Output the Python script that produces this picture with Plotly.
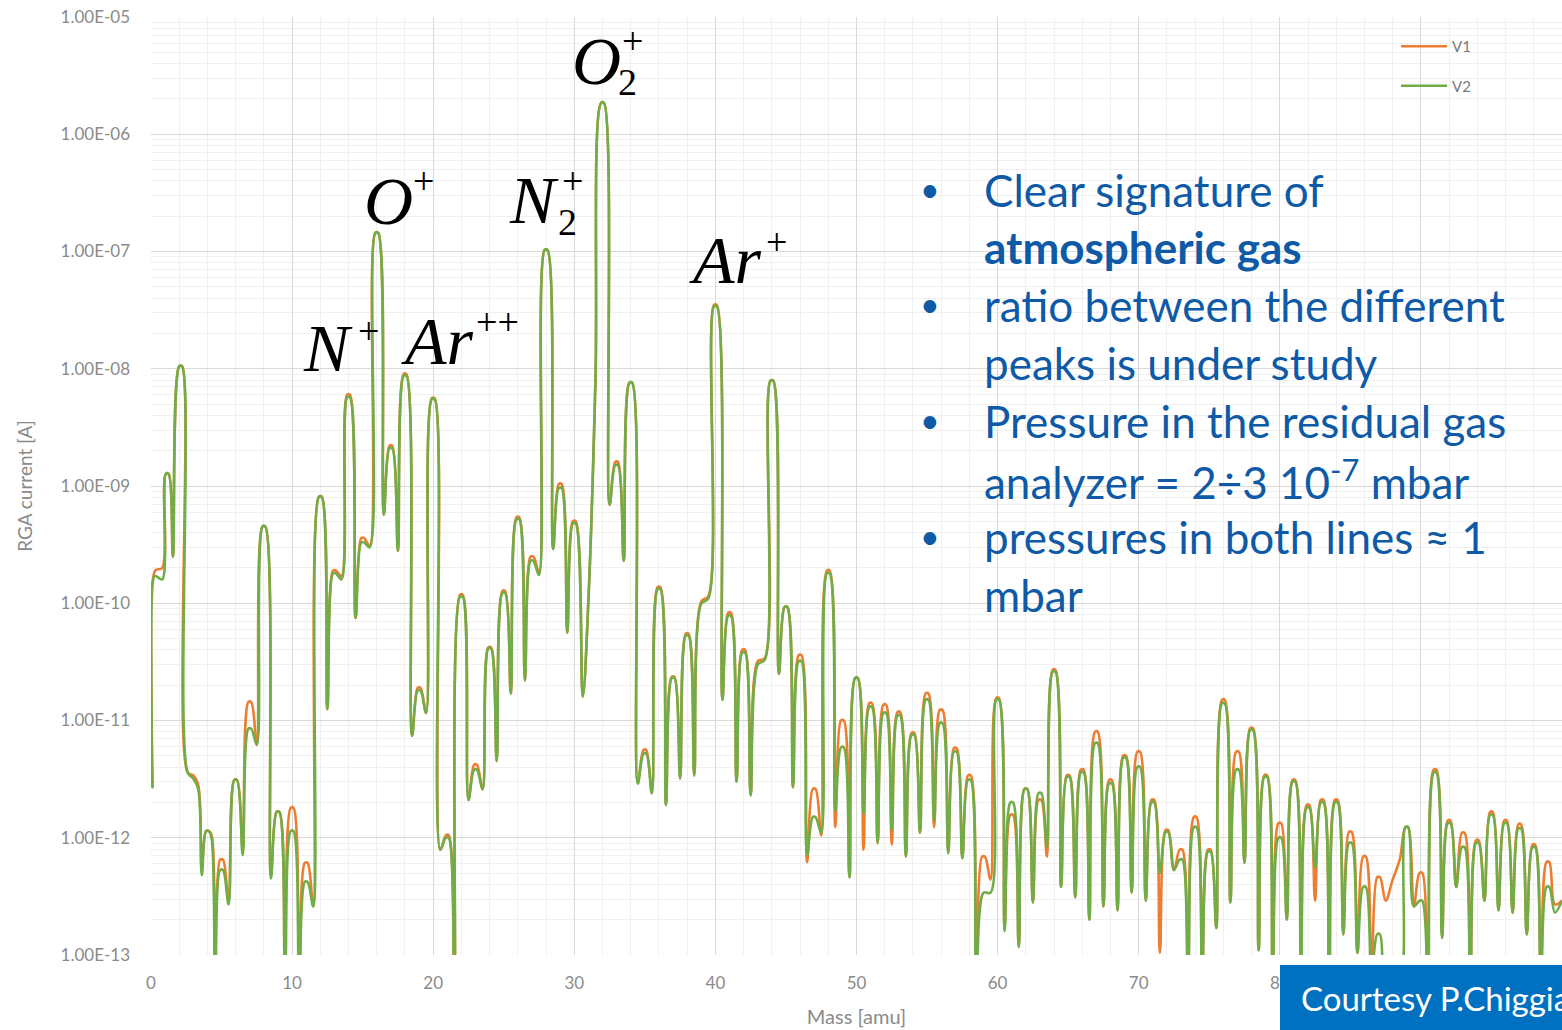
import plotly.graph_objects as go

# ---------------- data ----------------
mass = [0.0, 0.1, 0.3, 0.8, 1.15, 1.55, 2.1, 2.6, 3.0, 3.35, 3.6, 4.0, 4.3, 4.55, 5.0, 5.5,
        6.0, 6.5, 7.0, 7.5, 8.0, 8.5, 9.0, 9.5, 10.0, 10.5, 11.0, 11.5, 12.0, 12.5,
        13.0, 13.5, 14.0, 14.5, 15.0, 15.5, 16.0, 16.5, 17.0, 17.5, 18.0, 18.5, 19.0, 19.5,
        20.0, 20.5, 21.0, 21.5, 22.0, 22.5, 23.0, 23.5, 24.0, 24.5, 25.0, 25.5, 26.0, 26.5,
        27.0, 27.5, 28.0, 28.5, 29.0, 29.5, 30.0, 30.6, 31.0, 31.5, 32.0, 32.5, 33.0, 33.5,
        34.0, 34.5, 35.0, 35.5, 36.0, 36.5, 37.0, 37.5, 38.0, 38.5, 39.0, 39.5, 40.0, 40.5,
        41.0, 41.5, 42.0, 42.5, 43.0, 43.5, 44.0, 44.5, 45.0, 45.5, 46.0, 46.5, 47.0, 47.5,
        48.0, 48.5, 49.0, 49.5, 50.0, 50.5, 51.0, 51.5, 52.0, 52.5, 53.0, 53.5, 54.0, 54.5,
        55.0, 55.5, 56.0, 56.5, 57.0, 57.5, 58.0, 58.5, 59.0, 59.5, 60.0, 60.5, 61.0, 61.5,
        62.0, 62.5, 63.0, 63.5, 64.0, 64.5, 65.0, 65.5, 66.0, 66.5, 67.0, 67.5, 68.0, 68.5,
        69.0, 69.5, 70.0, 70.5, 71.0, 71.5, 72.0, 72.5, 73.0, 73.5, 74.0, 74.5, 75.0, 75.5,
        76.0, 76.5, 77.0, 77.5, 78.0, 78.5, 79.0, 79.5, 80.0, 80.5, 81.0, 81.5, 82.0, 82.5,
        83.0, 83.5, 84.0, 84.5, 85.0, 85.5, 86.0, 86.5, 87.0, 87.5, 88.0, 88.5, 89.0, 89.5,
        90.0, 90.5, 91.0, 91.5, 92.0, 92.5, 93.0, 93.5, 94.0, 94.5, 95.0, 95.5, 96.0, 96.5,
        97.0, 97.5, 98.0, 98.5, 99.0, 99.5, 100.0]

v1_current = [7.3e-11, 2.7e-12, 1.9e-10, 2.0e-10, 1.27e-9, 2.5e-10, 1.05e-8, 3.6e-12, 3.4e-12, 2.8e-12, 5.3e-13, 1.14e-12, 1.05e-12, 6e-14, 6.5e-13, 2.9e-13,
              3.1e-12, 7.9e-13, 1.44e-11, 6.2e-12, 4.5e-10, 4.8e-13, 1.66e-12, 6e-14, 1.8e-12, 6e-14, 6.1e-13, 2.6e-13, 8.1e-10, 1.25e-11,
              1.9e-10, 1.7e-10, 6.0e-9, 7.5e-11, 3.6e-10, 3.1e-10, 1.44e-7, 5.7e-10, 2.2e-9, 2.8e-10, 9.0e-9, 7.4e-12, 1.9e-11, 1.16e-11,
              5.6e-9, 7.9e-13, 1.05e-12, 6e-14, 1.18e-10, 2.1e-12, 4.2e-12, 2.6e-12, 4.2e-11, 4.5e-12, 1.27e-10, 1.7e-11, 5.4e-10, 2.2e-11,
              2.5e-10, 1.85e-10, 1.03e-7, 2.9e-10, 1.04e-9, 5.6e-11, 5.0e-10, 1.6e-11, 1.06e-10, 8.0e-9, 1.85e-6, 6.9e-10, 1.6e-9, 2.3e-10,
              7.6e-9, 2.9e-12, 5.6e-12, 2.4e-12, 1.37e-10, 1.9e-12, 2.35e-11, 3.2e-12, 5.5e-11, 3.4e-12, 1.04e-10, 1.15e-10, 3.5e-8, 1.5e-11,
              8.3e-11, 3.0e-12, 4.0e-11, 2.3e-12, 3.2e-11, 3.4e-11, 7.9e-9, 2.5e-11, 9.3e-11, 2.7e-12, 3.6e-11, 6.2e-13, 2.6e-12, 1.05e-12,
              1.9e-10, 1.23e-12, 1.0e-11, 4.6e-13, 2.3e-11, 7.9e-13, 1.4e-11, 9.0e-13, 1.36e-11, 8.7e-13, 1.18e-11, 6.9e-13, 7.8e-12, 1.1e-12,
              1.7e-11, 1.23e-12, 1.23e-11, 7.4e-13, 5.8e-12, 6.7e-13, 3.4e-12, 9e-14, 6.9e-13, 4.4e-13, 1.55e-11, 1.8e-13, 1.56e-12, 1.17e-13,
              2.6e-12, 2.8e-13, 2.1e-12, 6.9e-13, 2.7e-11, 3.8e-13, 3.4e-12, 3.1e-13, 3.8e-12, 2.0e-13, 8.0e-12, 2.6e-13, 3.1e-12, 2.4e-13,
              5.0e-12, 3.4e-13, 5.4e-12, 2.9e-13, 2.1e-12, 1.04e-13, 1.16e-12, 5.3e-13, 7.9e-13, 6e-14, 1.5e-12, 6e-14, 7.9e-13, 1.7e-13,
              1.5e-11, 2.8e-13, 5.4e-12, 6.1e-13, 8.6e-12, 1.1e-13, 3.4e-12, 6e-14, 1.33e-12, 2.0e-13, 3.1e-12, 6e-14, 1.9e-12, 2.9e-13,
              2.1e-12, 6e-14, 2.1e-12, 1.5e-13, 1.12e-12, 1.04e-13, 6.9e-13, 6e-14, 4.6e-13, 2.9e-13, 4.4e-13, 6.5e-13, 1.23e-12, 2.6e-13,
              5.0e-13, 6e-14, 3.8e-12, 1.4e-13, 1.4e-12, 3.8e-13, 1.1e-12, 6e-14, 9.5e-13, 2.9e-13, 1.66e-12, 2.4e-13, 1.4e-12, 2.3e-13,
              1.3e-12, 1.5e-13, 8.7e-13, 6e-14, 6.2e-13, 2.7e-13, 2.9e-13]

v2_current = [7.3e-11, 2.7e-12, 1.7e-10, 1.6e-10, 1.27e-9, 2.5e-10, 1.05e-8, 3.6e-12, 3.2e-12, 2.6e-12, 4.8e-13, 1.14e-12, 9.8e-13, 6e-14, 5.3e-13, 2.7e-13,
              3.1e-12, 7.1e-13, 8.5e-12, 6.2e-12, 4.5e-10, 4.5e-13, 1.66e-12, 6e-14, 1.14e-12, 6e-14, 4.2e-13, 2.6e-13, 8.1e-10, 1.25e-11,
              1.8e-10, 1.6e-10, 5.7e-9, 7.5e-11, 3.3e-10, 3.0e-10, 1.44e-7, 5.7e-10, 2.1e-9, 2.8e-10, 8.7e-9, 7.4e-12, 1.8e-11, 1.16e-11,
              5.5e-9, 7.9e-13, 1.0e-12, 6e-14, 1.13e-10, 2.1e-12, 3.8e-12, 2.6e-12, 4.1e-11, 4.5e-12, 1.22e-10, 1.7e-11, 5.2e-10, 2.2e-11,
              2.3e-10, 1.74e-10, 1.03e-7, 2.9e-10, 9.6e-10, 5.6e-11, 4.8e-10, 1.6e-11, 1.06e-10, 8.0e-9, 1.85e-6, 6.9e-10, 1.5e-9, 2.3e-10,
              7.6e-9, 2.9e-12, 5.2e-12, 2.4e-12, 1.32e-10, 1.9e-12, 2.3e-11, 3.2e-12, 5.3e-11, 3.4e-12, 9.9e-11, 1.1e-10, 3.4e-8, 1.5e-11,
              7.8e-11, 3.0e-12, 3.8e-11, 2.3e-12, 3.0e-11, 3.3e-11, 7.9e-9, 2.5e-11, 9.3e-11, 2.7e-12, 3.2e-11, 7.1e-13, 1.5e-12, 1.1e-12,
              1.8e-10, 1.7e-12, 5.9e-12, 4.6e-13, 2.3e-11, 1.6e-12, 1.3e-11, 9.0e-13, 1.16e-11, 1.16e-12, 1.1e-11, 6.9e-13, 7.5e-12, 1.1e-12,
              1.5e-11, 1.4e-12, 9.5e-12, 7.4e-13, 5.4e-12, 6.7e-13, 3.1e-12, 6e-14, 3.4e-13, 3.4e-13, 1.5e-11, 1.6e-13, 2.0e-12, 1.17e-13,
              2.6e-12, 2.8e-13, 2.4e-12, 8.3e-13, 2.6e-11, 3.8e-13, 3.3e-12, 3.1e-13, 3.6e-12, 2.0e-13, 6.4e-12, 2.6e-13, 2.9e-12, 2.4e-13,
              4.8e-12, 3.4e-13, 4.0e-12, 2.9e-13, 2.0e-12, 5.0e-13, 1.12e-12, 5.3e-13, 6.5e-13, 6e-14, 1.23e-12, 6e-14, 7.6e-13, 1.7e-13,
              1.4e-11, 2.8e-13, 3.8e-12, 6.1e-13, 8.3e-12, 1.1e-13, 3.3e-12, 6e-14, 1.0e-12, 2.0e-13, 3.0e-12, 6e-14, 1.8e-12, 5.6e-13,
              2.0e-12, 6e-14, 2.0e-12, 1.5e-13, 9.0e-13, 1.04e-13, 3.8e-13, 6e-14, 1.5e-13, 6e-14, 6e-14, 6e-14, 1.23e-12, 2.6e-13,
              2.9e-13, 6e-14, 3.6e-12, 1.4e-13, 1.33e-12, 3.8e-13, 8.3e-13, 6e-14, 9.0e-13, 2.9e-13, 1.56e-12, 2.4e-13, 1.33e-12, 2.3e-13,
              1.2e-12, 1.5e-13, 8.3e-13, 6e-14, 3.8e-13, 2.3e-13, 2.9e-13]

y_tick_values = [1e-13, 1e-12, 1e-11, 1e-10, 1e-9, 1e-8, 1e-7, 1e-6, 1e-5]
y_tick_labels = ["1.00E-13", "1.00E-12", "1.00E-11", "1.00E-10", "1.00E-09",
                 "1.00E-08", "1.00E-07", "1.00E-06", "1.00E-05"]
x_tick_values = [0, 10, 20, 30, 40, 50, 60, 70, 80, 90, 100]

series_names = ["V1", "V2"]
bullet_lines = ["Clear signature of", "<b>atmospheric gas</b>", "ratio between the different",
                "peaks is under study", "Pressure in the residual gas",
                "analyzer = 2÷3 10<sup>-7</sup> mbar", "pressures in both lines ≈ 1", "mbar"]
bullet_marks = [True, False, True, False, True, False, True, False]


# give each local maximum a short rounded top, like the instrument's peak shape
def arch(xs, ys, half=0.1):
    ox, oy = [], []
    n = len(xs)
    for i in range(n):
        if 0 < i < n - 1 and ys[i] > ys[i - 1] and ys[i] > ys[i + 1]:
            h = min(half, (xs[i] - xs[i - 1]) / 3, (xs[i + 1] - xs[i]) / 3)
            ox += [xs[i] - h, xs[i] + h]
            oy += [ys[i], ys[i]]
        else:
            ox.append(xs[i])
            oy.append(ys[i])
    return ox, oy


# ---------------- figure ----------------
W, H = 1562, 1030
L, R, T, B = 151, 0, 17, 75


def px(x):
    return (x - L) / (W - L - R)


def py(y):
    return (H - B - y) / (H - B - T)


fig = go.Figure()
x1, y1 = arch(mass, v1_current)
x2, y2 = arch(mass, v2_current)
fig.add_trace(go.Scatter(x=x1, y=y1, name=series_names[0], mode="lines",
                         line=dict(color="#ED7D31", width=2.6, shape="spline", smoothing=1.0),
                         legendgroup="a"))
fig.add_trace(go.Scatter(x=x2, y=y2, name=series_names[1], mode="lines",
                         line=dict(color="#70AD47", width=2.6, shape="spline", smoothing=1.0),
                         legendgroup="b"))

tick_font = dict(family="Lato, sans-serif", size=17, color="#8a8a8a")

fig.update_layout(
    width=W, height=H,
    margin=dict(l=L, r=R, t=T, b=B, pad=0),
    paper_bgcolor="white", plot_bgcolor="white",
    showlegend=True,
    legend=dict(x=px(1396), y=py(30), xanchor="left", yanchor="top",
                bgcolor="rgba(0,0,0,0)", font=dict(family="Lato, sans-serif", size=15, color="#7a7a7a"),
                tracegroupgap=17, itemwidth=46),
    xaxis=dict(range=[0, 100], tickvals=x_tick_values, ticks="", showline=False,
               showgrid=True, gridcolor="#d9d9d9", gridwidth=1, zeroline=False,
               minor=dict(dtick=2, showgrid=True, gridcolor="#f0f0f0", gridwidth=1),
               tickfont=tick_font, ticklabelstandoff=16,
               title=dict(text="Mass [amu]", font=dict(family="Lato, sans-serif", size=20, color="#8a8a8a"),
                          standoff=17)),
    yaxis=dict(type="log", range=[-13, -5], tickvals=y_tick_values, ticktext=y_tick_labels,
               ticks="", showline=False, showgrid=True, gridcolor="#d9d9d9", gridwidth=1,
               zeroline=False,
               minor=dict(dtick="D1", showgrid=True, gridcolor="#f0f0f0", gridwidth=1),
               tickfont=tick_font, ticklabelstandoff=20,
               title=dict(text="RGA current [A]", font=dict(family="Lato, sans-serif", size=19, color="#8a8a8a"),
                          standoff=22)),
)

# ion labels (italic serif)
serif = "Liberation Serif, DejaVu Serif, serif"
big = 68
small = 38
labels = [
    ("<i>N</i>", 328, 348, big), ("+", 368, 331, small),
    ("<i>O</i>", 388, 201, big), ("+", 423, 181, small),
    ("<i>Ar</i>", 437, 341, big), ("++", 497, 322, small),
    ("<i>N</i>", 534, 200, big), ("+", 572, 181, small), ("2", 567, 222, small),
    ("<i>O</i>", 596, 61, big), ("+", 632, 41, small), ("2", 627, 82, small),
    ("<i>Ar</i>", 725, 260, big), ("+", 776, 242, small),
]
for txt, x, y, s in labels:
    fig.add_annotation(text=txt, x=px(x), y=py(y), xref="paper", yref="paper",
                       xanchor="center", yanchor="middle", showarrow=False,
                       font=dict(family=serif, size=s, color="black"))

# bullet text
blue = "#0E5AA7"
line_y = [190, 247, 305, 363, 421, 479, 537, 595]
for txt, mark, y in zip(bullet_lines, bullet_marks, line_y):
    fig.add_annotation(text=txt, x=px(982), y=py(y), xref="paper", yref="paper",
                       xanchor="left", yanchor="middle", showarrow=False,
                       font=dict(family="Lato, sans-serif", size=44, color=blue))
    if mark:
        fig.add_annotation(text="•", x=px(930), y=py(y - 2), xref="paper", yref="paper",
                           xanchor="center", yanchor="middle", showarrow=False,
                           font=dict(family="Lato, sans-serif", size=34, color=blue))

# courtesy box
fig.add_shape(type="rect", xref="paper", yref="paper", x0=px(1280), x1=px(1600),
              y0=py(1040), y1=py(965), fillcolor="#0070C0", line=dict(width=0), layer="above")
fig.add_annotation(text="Courtesy P.Chiggiato", x=px(1299), y=py(998), xref="paper", yref="paper",
                   xanchor="left", yanchor="middle", showarrow=False,
                   font=dict(family="Lato, sans-serif", size=33, color="white"))

fig.write_html("out.html", config={"displayModeBar": False},
               post_script="document.body.style.margin='0px';")
